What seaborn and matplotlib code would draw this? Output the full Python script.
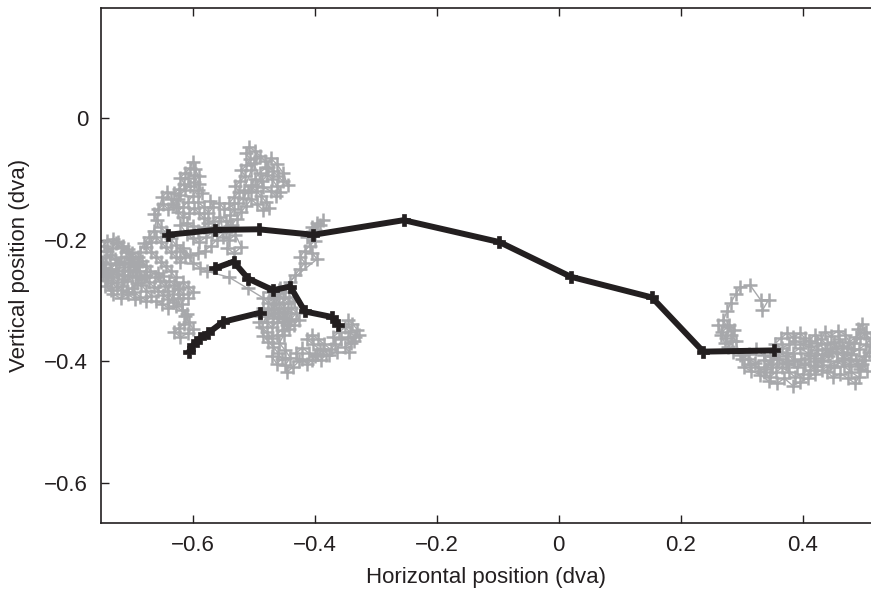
import numpy as np
import pandas as pd
import matplotlib
matplotlib.use("Agg")
import matplotlib.pyplot as plt
import seaborn as sns

# ---------------- data (dva) ----------------
# raw eye positions, left fixation cluster
gray_left_x = [
    -0.705, -0.712, -0.720, -0.728, -0.735, -0.742, -0.748, -0.744, -0.738, -0.730,
    -0.724, -0.716, -0.708, -0.700, -0.694, -0.688, -0.696, -0.703, -0.710, -0.718,
    -0.726, -0.732, -0.740, -0.746, -0.740, -0.731, -0.722, -0.714, -0.706, -0.699,
    -0.690, -0.683, -0.676, -0.670, -0.676, -0.684, -0.692, -0.700, -0.708, -0.716,
    -0.724, -0.733, -0.741, -0.747, -0.736, -0.726, -0.716, -0.706, -0.697, -0.688,
    -0.680, -0.672, -0.664,
    -0.656, -0.648, -0.640, -0.632, -0.624, -0.616, -0.622, -0.630, -0.638, -0.646,
    -0.654, -0.662, -0.656, -0.648, -0.640, -0.628, -0.618, -0.610, -0.614, -0.622,
    -0.630, -0.620, -0.608, -0.600, -0.606, -0.612, -0.618,
    -0.628, -0.636, -0.644, -0.652, -0.660, -0.668, -0.676, -0.668, -0.660, -0.652,
    -0.644, -0.636, -0.628, -0.620, -0.612, -0.620, -0.628, -0.636, -0.644, -0.652,
    -0.658, -0.664, -0.656, -0.648, -0.640, -0.632, -0.624, -0.630, -0.622, -0.614,
    -0.620, -0.612, -0.604, -0.600, -0.596, -0.590, -0.598, -0.592, -0.600, -0.608,
    -0.616, -0.624, -0.616, -0.606, -0.598,
    -0.590, -0.582, -0.574, -0.582, -0.592, -0.600, -0.610, -0.620, -0.610, -0.600,
    -0.590, -0.578, -0.568, -0.558, -0.566, -0.556, -0.546, -0.538, -0.546,
    -0.538, -0.532, -0.540, -0.532, -0.524, -0.530, -0.522, -0.514, -0.520, -0.512,
    -0.506, -0.512, -0.508, -0.498, -0.490, -0.482, -0.476, -0.468, -0.460, -0.452,
    -0.444, -0.452, -0.462, -0.472, -0.480, -0.490, -0.498, -0.504, -0.496, -0.488,
    -0.480, -0.474, -0.484, -0.494, -0.504, -0.512, -0.520, -0.528, -0.536,
    -0.560, -0.570, -0.580, -0.592, -0.604, -0.616, -0.600, -0.588, -0.576,
    -0.540, -0.510,
    -0.484, -0.476, -0.468, -0.460, -0.452, -0.444, -0.452, -0.460, -0.468, -0.476,
    -0.484, -0.478, -0.470, -0.462, -0.454, -0.446, -0.438, -0.430, -0.438, -0.446,
    -0.454, -0.462, -0.470, -0.478, -0.486, -0.480, -0.472, -0.464, -0.456, -0.448,
    -0.440, -0.432, -0.424, -0.416, -0.424, -0.416, -0.408, -0.400, -0.408, -0.400,
    -0.392, -0.386, -0.396, -0.404, -0.412, -0.404, -0.396,
    -0.458, -0.466, -0.458, -0.450, -0.442,
    -0.450, -0.458, -0.448, -0.440, -0.448, -0.446, -0.436, -0.426, -0.430, -0.420,
    -0.410, -0.400, -0.390, -0.382, -0.392, -0.402, -0.412, -0.404, -0.394, -0.384,
    -0.374, -0.366, -0.370, -0.360, -0.350, -0.342, -0.334, -0.340, -0.350, -0.344,
    -0.330, -0.338, -0.346,
]
gray_left_y = [
    -0.238, -0.245, -0.240, -0.232, -0.225, -0.228, -0.236, -0.247, -0.255, -0.262,
    -0.270, -0.276, -0.268, -0.260, -0.252, -0.244, -0.236, -0.228, -0.220, -0.212,
    -0.206, -0.214, -0.218, -0.210, -0.202, -0.199, -0.204, -0.210, -0.216, -0.222,
    -0.228, -0.235, -0.243, -0.251, -0.258, -0.264, -0.271, -0.279, -0.286, -0.283,
    -0.278, -0.272, -0.266, -0.258, -0.248, -0.252, -0.258, -0.250, -0.243, -0.252,
    -0.262, -0.270, -0.277,
    -0.284, -0.291, -0.297, -0.302, -0.296, -0.289, -0.281, -0.274, -0.268, -0.276,
    -0.268, -0.262, -0.254, -0.259, -0.285, -0.309, -0.316, -0.322, -0.338, -0.345,
    -0.352, -0.360, -0.354, -0.346, -0.336, -0.326, -0.306,
    -0.262, -0.252, -0.244, -0.236, -0.228, -0.220, -0.212, -0.204, -0.196, -0.204,
    -0.212, -0.220, -0.228, -0.236, -0.228, -0.218, -0.208, -0.198, -0.188, -0.180,
    -0.168, -0.158, -0.150, -0.142, -0.150, -0.142, -0.134, -0.124, -0.116, -0.108,
    -0.098, -0.090, -0.082, -0.072, -0.084, -0.096, -0.106, -0.118, -0.128, -0.138,
    -0.146, -0.154, -0.162, -0.156, -0.148,
    -0.156, -0.164, -0.172, -0.180, -0.186, -0.178, -0.172, -0.176, -0.190, -0.198,
    -0.204, -0.196, -0.188, -0.180, -0.170, -0.162, -0.170, -0.178, -0.188,
    -0.160, -0.150, -0.140, -0.130, -0.122, -0.112, -0.104, -0.096, -0.086, -0.078,
    -0.068, -0.058, -0.048, -0.054, -0.062, -0.070, -0.080, -0.088, -0.096, -0.104,
    -0.110, -0.090, -0.076, -0.066, -0.082, -0.090, -0.100, -0.112, -0.120, -0.128,
    -0.138, -0.148, -0.152, -0.142, -0.134, -0.144, -0.154, -0.166, -0.176,
    -0.200, -0.210, -0.218, -0.222, -0.226, -0.214, -0.238, -0.246, -0.252,
    -0.262, -0.280,
    -0.296, -0.304, -0.296, -0.288, -0.296, -0.304, -0.312, -0.320, -0.328, -0.320,
    -0.312, -0.336, -0.344, -0.336, -0.328, -0.320, -0.312, -0.320, -0.330, -0.340,
    -0.348, -0.356, -0.362, -0.352, -0.344, -0.326, -0.314, -0.306, -0.280, -0.286,
    -0.270, -0.258, -0.248, -0.238, -0.228, -0.218, -0.210, -0.202, -0.192, -0.184,
    -0.176, -0.168, -0.172, -0.180, -0.196, -0.222, -0.232,
    -0.282, -0.292, -0.304, -0.318, -0.334,
    -0.356, -0.370, -0.382, -0.394, -0.406, -0.418, -0.410, -0.400, -0.386, -0.378,
    -0.386, -0.392, -0.398, -0.390, -0.380, -0.372, -0.364, -0.356, -0.364, -0.372,
    -0.380, -0.372, -0.360, -0.352, -0.344, -0.352, -0.360, -0.370, -0.376, -0.384,
    -0.348, -0.338, -0.332,
]

# further raw samples inside each left sub-cluster (second pass)
gray_fill_a_x = [-0.718, -0.726, -0.734, -0.722, -0.712, -0.702, -0.692, -0.684, -0.676, -0.668,
                 -0.676, -0.686, -0.696, -0.690, -0.700, -0.712, -0.744, -0.750, -0.742, -0.734,
                 -0.744, -0.730, -0.718, -0.706, -0.694]
gray_fill_a_y = [-0.228, -0.240, -0.248, -0.256, -0.264, -0.252, -0.262, -0.274, -0.284, -0.292,
                 -0.300, -0.294, -0.286, -0.240, -0.232, -0.236, -0.240, -0.250, -0.262, -0.282,
                 -0.276, -0.290, -0.296, -0.290, -0.298]
gray_fill_b_x = [-0.660, -0.650, -0.640, -0.632, -0.624, -0.616, -0.608, -0.600, -0.608]
gray_fill_b_y = [-0.300, -0.306, -0.312, -0.290, -0.280, -0.270, -0.278, -0.286, -0.296]
gray_fill_c_x = [-0.686, -0.680, -0.672, -0.664, -0.650, -0.642, -0.636, -0.628, -0.620, -0.612,
                 -0.604, -0.608, -0.598, -0.590, -0.584, -0.592, -0.582, -0.574, -0.566, -0.572]
gray_fill_c_y = [-0.220, -0.206, -0.196, -0.186, -0.130, -0.122, -0.134, -0.146, -0.126, -0.118,
                 -0.112, -0.098, -0.094, -0.108, -0.124, -0.138, -0.146, -0.156, -0.146, -0.136]
gray_fill_d_x = [-0.544, -0.532, -0.520, -0.530, -0.540, -0.550, -0.556, -0.548, -0.526, -0.518,
                 -0.510, -0.502, -0.494, -0.486, -0.478, -0.470, -0.462, -0.456, -0.464, -0.472,
                 -0.484, -0.500, -0.496, -0.504, -0.516]
gray_fill_d_y = [-0.214, -0.222, -0.212, -0.192, -0.200, -0.196, -0.140, -0.150, -0.140, -0.132,
                 -0.122, -0.110, -0.112, -0.104, -0.094, -0.100, -0.112, -0.122, -0.128, -0.120,
                 -0.114, -0.074, -0.066, -0.086, -0.118]
gray_fill_e_x = [-0.474, -0.466, -0.458, -0.450, -0.442, -0.434, -0.426, -0.434, -0.442, -0.488,
                 -0.492, -0.484, -0.476, -0.468, -0.460, -0.454, -0.462, -0.470,
                 -0.420, -0.412, -0.404, -0.396, -0.386, -0.376, -0.364, -0.356, -0.346, -0.336,
                 -0.328]
gray_fill_e_y = [-0.286, -0.316, -0.326, -0.336, -0.346, -0.340, -0.332, -0.300, -0.294, -0.326,
                 -0.336, -0.358, -0.368, -0.376, -0.386, -0.396, -0.404, -0.392,
                 -0.396, -0.404, -0.398, -0.388, -0.382, -0.390, -0.384, -0.364, -0.360, -0.366,
                 -0.356]

# raw eye positions, right fixation cluster
gray_right_x = [
    0.334, 0.344, 0.331, 0.314, 0.298, 0.290, 0.282, 0.276, 0.270, 0.276,
    0.268, 0.274, 0.282, 0.290, 0.278, 0.286, 0.298, 0.310, 0.322, 0.336,
    0.348, 0.340, 0.352,
    0.360, 0.372, 0.384, 0.396, 0.408, 0.420, 0.432, 0.444, 0.456, 0.468,
    0.480, 0.492, 0.504, 0.512, 0.500, 0.490, 0.498, 0.488, 0.476, 0.464,
    0.452, 0.440, 0.430, 0.420, 0.410, 0.400, 0.388, 0.378, 0.366, 0.354,
    0.364, 0.374, 0.384, 0.396, 0.404, 0.414, 0.424, 0.434, 0.424, 0.412,
    0.400, 0.388, 0.378, 0.366, 0.356, 0.346, 0.336, 0.326, 0.314, 0.304,
    0.316, 0.330, 0.344, 0.358, 0.370, 0.384, 0.396, 0.408, 0.420, 0.432,
    0.444, 0.456, 0.468, 0.480, 0.492, 0.486, 0.474, 0.462, 0.450, 0.440,
    0.452, 0.464, 0.476, 0.488, 0.500, 0.508, 0.498, 0.506, 0.494, 0.482,
    0.470, 0.458, 0.446, 0.436, 0.418, 0.402, 0.386, 0.372, 0.358, 0.346,
]
gray_right_y = [
    -0.316, -0.299, -0.299, -0.275, -0.278, -0.290, -0.304, -0.318, -0.332, -0.344,
    -0.352, -0.362, -0.356, -0.366, -0.376, -0.384, -0.390, -0.396, -0.402, -0.398,
    -0.404, -0.412, -0.392,
    -0.384, -0.392, -0.386, -0.378, -0.386, -0.394, -0.388, -0.380, -0.386, -0.394,
    -0.388, -0.380, -0.372, -0.362, -0.354, -0.346, -0.338, -0.360, -0.368, -0.374,
    -0.368, -0.372, -0.364, -0.356, -0.366, -0.372, -0.366, -0.372, -0.378, -0.372,
    -0.362, -0.354, -0.360, -0.354, -0.362, -0.374, -0.382, -0.398, -0.408, -0.414,
    -0.420, -0.426, -0.418, -0.410, -0.418, -0.426, -0.418, -0.410, -0.404, -0.410,
    -0.416, -0.422, -0.432, -0.436, -0.428, -0.440, -0.434, -0.428, -0.420, -0.414,
    -0.406, -0.400, -0.408, -0.418, -0.426, -0.436, -0.428, -0.420, -0.426, -0.418,
    -0.410, -0.398, -0.404, -0.398, -0.392, -0.384, -0.404, -0.416, -0.412, -0.380,
    -0.356, -0.350, -0.358, -0.352, -0.400, -0.404, -0.398, -0.402, -0.396, -0.392,
]

# further raw samples inside the right cluster (second pass)
gray_right2_x = [
    0.262, 0.266, 0.272, 0.284, 0.288, 0.280,
    0.300, 0.312, 0.324, 0.336, 0.350, 0.362, 0.376, 0.390, 0.404, 0.418,
    0.430, 0.442, 0.454, 0.466, 0.478, 0.490, 0.502, 0.512, 0.504, 0.494,
    0.484, 0.472, 0.460, 0.448, 0.436, 0.424, 0.412, 0.398, 0.386, 0.374,
]
gray_right2_y = [
    -0.340, -0.356, -0.370, -0.366, -0.348, -0.340,
    -0.396, -0.388, -0.380, -0.390, -0.410, -0.396, -0.404, -0.410, -0.404, -0.408,
    -0.400, -0.392, -0.378, -0.384, -0.396, -0.408, -0.398, -0.374, -0.352, -0.362,
    -0.370, -0.378, -0.364, -0.384, -0.380, -0.370, -0.390, -0.396, -0.400, -0.386,
]

# estimated drift trajectory (three pieces)
traj_lower_x = [-0.606, -0.599, -0.588, -0.574, -0.550, -0.489]
traj_lower_y = [-0.384, -0.373, -0.362, -0.353, -0.335, -0.320]
traj_mid_x = [-0.563, -0.533, -0.509, -0.468, -0.440, -0.416, -0.372, -0.361]
traj_mid_y = [-0.247, -0.236, -0.264, -0.283, -0.277, -0.318, -0.327, -0.340]
traj_top_x = [-0.640, -0.563, -0.492, -0.402, -0.254, -0.097, 0.020, 0.153, 0.237, 0.353]
traj_top_y = [-0.192, -0.184, -0.183, -0.192, -0.168, -0.204, -0.261, -0.295, -0.384, -0.382]

x_ticks = [-0.6, -0.4, -0.2, 0, 0.2, 0.4]
x_ticklabels = ["\u22120.6", "\u22120.4", "\u22120.2", "0", "0.2", "0.4"]
y_ticks = [0, -0.2, -0.4, -0.6]
y_ticklabels = ["0", "\u22120.2", "\u22120.4", "\u22120.6"]

# ---------------- tables ----------------
gray_parts = {
    "left": (gray_left_x, gray_left_y),
    "fa": (gray_fill_a_x, gray_fill_a_y),
    "fb": (gray_fill_b_x, gray_fill_b_y),
    "fc": (gray_fill_c_x, gray_fill_c_y),
    "fd": (gray_fill_d_x, gray_fill_d_y),
    "fe": (gray_fill_e_x, gray_fill_e_y),
    "right": (gray_right_x, gray_right_y),
    "right2": (gray_right2_x, gray_right2_y),
}
gray_df = pd.concat(
    [pd.DataFrame({"x": gx, "y": gy, "unit": k}) for k, (gx, gy) in gray_parts.items()],
    ignore_index=True)
traj_df = pd.concat([
    pd.DataFrame({"x": traj_lower_x, "y": traj_lower_y, "unit": "lower"}),
    pd.DataFrame({"x": traj_mid_x, "y": traj_mid_y, "unit": "mid"}),
    pd.DataFrame({"x": traj_top_x, "y": traj_top_y, "unit": "top"}),
], ignore_index=True)

# ---------------- style ----------------
sns.set_style("ticks")
plt.rcParams["font.family"] = ["Liberation Sans", "DejaVu Sans"]
plt.rcParams["xtick.direction"] = "in"
plt.rcParams["ytick.direction"] = "in"

fig = plt.figure(figsize=(8.71, 5.98), dpi=100)
ax = fig.add_axes([0.1154, 0.126, 0.8846, 0.860])

gray = "#a7a8ab"
sns.lineplot(data=gray_df, x="x", y="y", units="unit", estimator=None, sort=False,
             color=gray, linewidth=1.0, marker="+", markersize=9.5,
             markeredgewidth=1.8, markeredgecolor=gray, ax=ax, zorder=2)
sns.lineplot(data=traj_df, x="x", y="y", units="unit", estimator=None, sort=False,
             color="#231f20", linewidth=4.3, marker="P", markersize=9,
             markeredgewidth=0.5, markeredgecolor="#231f20", ax=ax, zorder=3)

ax.set_xlim(-0.751, 0.512)
ax.set_ylim(-0.665, 0.180)
ax.set_xticks(x_ticks)
ax.set_xticklabels(x_ticklabels)
ax.set_yticks(y_ticks)
ax.set_yticklabels(y_ticklabels)
ax.tick_params(axis="both", which="major", labelsize=16, length=6, width=1.0,
               color="#231f20", labelcolor="#231f20", top=True, pad=9)
ax.set_xlabel("Horizontal position (dva)", fontsize=16, color="#231f20", labelpad=8)
ax.set_ylabel("Vertical position (dva)", fontsize=16, color="#231f20", labelpad=10)
for side in ["left", "bottom", "top"]:
    ax.spines[side].set_visible(True)
    ax.spines[side].set_linewidth(1.2)
    ax.spines[side].set_color("#231f20")
ax.spines["right"].set_visible(False)

fig.savefig("out.png", dpi=100)
